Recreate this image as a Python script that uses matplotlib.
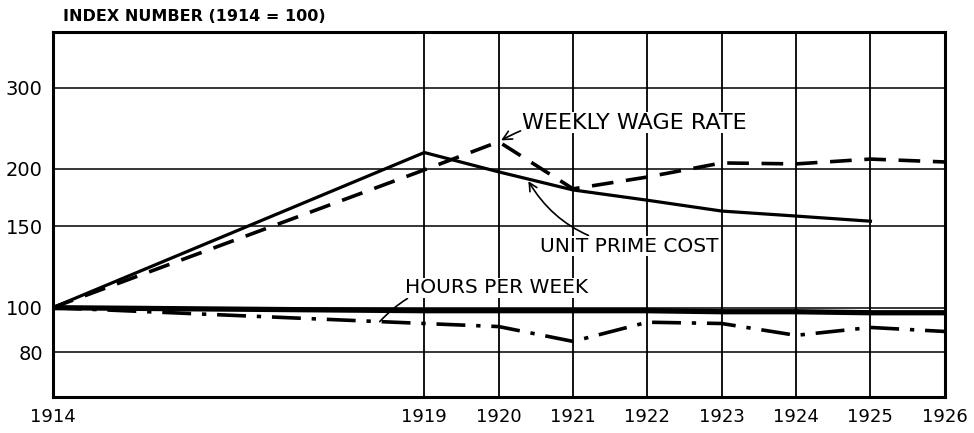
import numpy as np
import matplotlib.pyplot as plt
from matplotlib.ticker import FixedLocator, NullLocator

# values (index, 1914 = 100)
years = [1914, 1919, 1920, 1921, 1922, 1923, 1924, 1925, 1926]
weekly_wage_rate = [100, 199, 229, 181, 192, 206, 205, 210, 207]
unit_prime_cost = [100, 217, 197, 180, 171, 162, 158, 154, np.nan]
hours_per_week = [100, 92.4, 91, 84.5, 93, 92.4, 87.1, 90.6, 88.8]
flat_index = [100, 98.5, 98.5, 98.5, 98.5, 98, 98, 97.5, 97.5]

y_ticks = [80, 100, 150, 200, 300]
x_grid = [1919, 1920, 1921, 1922, 1923, 1924, 1925]

font = ['DejaVu Sans']

fig = plt.figure(figsize=(9.74, 4.33), dpi=100)
ax = fig.add_axes([0.054, 0.083, 0.916, 0.843])

ax.set_yscale('log')
ax.set_ylim(64, 396)
ax.set_xlim(1914, 1926)

# grid
for v in y_ticks:
    ax.axhline(v, color='black', lw=1.1, zorder=1)
for yr in x_grid:
    ax.axvline(yr, color='black', lw=1.3, zorder=1)

# lines
ax.plot(years, flat_index, color='black', lw=3.8, solid_capstyle='butt', zorder=3)
ax.plot(years, unit_prime_cost, color='black', lw=2.3, zorder=3)
ax.plot(years, weekly_wage_rate, color='black', lw=2.6, dashes=(6, 3.5), zorder=3)
ax.plot(years, hours_per_week, color='black', lw=2.6, dashes=(8, 3, 1.2, 3), zorder=3)

# axes look
for s in ax.spines.values():
    s.set_linewidth(2.2)
ax.yaxis.set_major_locator(FixedLocator(y_ticks))
ax.yaxis.set_minor_locator(NullLocator())
ax.set_yticklabels([str(v) for v in y_ticks])
ax.set_xticks(years)
ax.set_xticklabels([str(y) for y in years])
ax.tick_params(axis='y', length=0, labelsize=14, pad=7)
ax.tick_params(axis='x', length=0, labelsize=13, pad=8)

fig.text(0.065, 0.961, 'INDEX NUMBER (1914 = 100)', fontsize=11.5, fontweight='bold',
         family=font, ha='left', va='center')

# labels with arrows
def interp_log(x, xs, ys):
    return float(np.exp(np.interp(x, xs, np.log(ys))))

box = dict(facecolor='white', edgecolor='none', pad=0.5)

ax.annotate('WEEKLY WAGE RATE', xy=(years[2], weekly_wage_rate[2]),
            xytext=(1920.32, 252), fontsize=16, family=font, ha='left', va='center',
            bbox=box, zorder=4,
            arrowprops=dict(arrowstyle='->', color='black', lw=1.2,
                            connectionstyle='arc3,rad=0.2', shrinkA=1, shrinkB=2))

ax.annotate('UNIT PRIME COST', xy=(1920.38, interp_log(1920.38, years[:8], unit_prime_cost[:8])),
            xytext=(1920.55, 136), fontsize=14.5, family=font, ha='left', va='center',
            bbox=box, zorder=4,
            arrowprops=dict(arrowstyle='->', color='black', lw=1.2,
                            connectionstyle='arc3,rad=-0.25', shrinkA=1, shrinkB=2))

ax.annotate('HOURS PER WEEK', xy=(1918.4, interp_log(1918.4, years, hours_per_week)),
            xytext=(1918.74, 110.5), fontsize=14.5, family=font, ha='left', va='center',
            bbox=box, zorder=4,
            arrowprops=dict(arrowstyle='-', color='black', lw=1.2,
                            connectionstyle='arc3,rad=0.3', shrinkA=1, shrinkB=0))

fig.savefig('out.png', dpi=100)
